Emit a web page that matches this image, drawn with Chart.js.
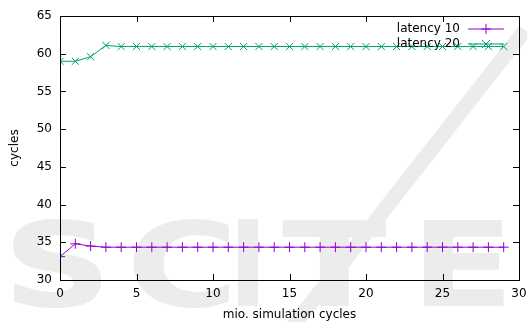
<!DOCTYPE html>
<html>
<head>
<meta charset="utf-8">
<script src="https://cdn.jsdelivr.net/npm/chart.js@4"></script>
<style>
  html, body { margin: 0; padding: 0; background: #fff; }
  #wrap { width: 527px; height: 322px; }
</style>
</head>
<body>
<div id="wrap"><canvas id="latencyChart" width="527" height="322"></canvas></div>
<script>
// x = million simulation cycles
const cycles = [0, 1, 2, 3, 4, 5, 6, 7, 8, 9, 10, 11, 12, 13, 14, 15, 16, 17, 18, 19, 20, 21, 22, 23, 24, 25, 26, 27, 28, 29];
const latency10 = [33.1, 34.8, 34.5, 34.35, 34.35, 34.35, 34.35, 34.35, 34.35, 34.35, 34.35, 34.35, 34.35, 34.35, 34.35,
  34.35, 34.35, 34.35, 34.35, 34.35, 34.35, 34.35, 34.35, 34.35, 34.35, 34.35, 34.35, 34.35, 34.35, 34.35];
const latency20 = [59.0, 59.0, 59.6, 61.1, 60.95, 60.95, 60.95, 60.95, 60.95, 60.95, 60.95, 60.95, 60.95, 60.95, 60.95,
  60.95, 60.95, 60.95, 60.95, 60.95, 60.95, 60.95, 60.95, 60.95, 60.95, 60.95, 60.95, 60.95, 60.95, 60.95];
const seriesNames = ['latency 10', 'latency 20'];
const xTicks = [0, 5, 10, 15, 20, 25, 30];
const yTicks = [30, 35, 40, 45, 50, 55, 60, 65];

const FONT = 'DejaVu Sans';

function toPoints(ys) {
  return cycles.map((x, i) => ({ x: x, y: ys[i] }));
}

// faint publisher watermark behind the plot
const watermark = {
  id: 'watermark',
  beforeDraw(chart) {
    const c = chart.ctx;
    c.save();
    c.fillStyle = '#ececec';
    c.strokeStyle = '#ececec';
    c.font = 'bold 118px ' + FONT;
    c.textBaseline = 'alphabetic';
    const letter = (ch, x) => {
      c.save();
      c.translate(x, 306);
      c.scale(1.3, 1);
      c.fillText(ch, 0, 0);
      c.restore();
    };
    letter('S', 2);
    letter('C', 126);
    c.fillRect(238, 219, 20, 87);
    letter('T', 282);
    letter('E', 410);
    c.lineWidth = 15;
    c.beginPath();
    c.moveTo(290, 330);
    c.lineTo(525, 30);
    c.stroke();
    c.restore();
  }
};

// gnuplot style frame, inward ticks on all four sides, and key
const frame = {
  id: 'frame',
  afterDraw(chart) {
    const c = chart.ctx;
    const a = chart.chartArea;
    const xs = chart.scales.x, ys = chart.scales.y;
    c.save();
    c.strokeStyle = '#000';
    c.lineWidth = 1;
    c.strokeRect(Math.round(a.left) + 0.5, Math.round(a.top) + 0.5,
      Math.round(a.right - a.left), Math.round(a.bottom - a.top));
    c.beginPath();
    xTicks.forEach(v => {
      const px = Math.round(xs.getPixelForValue(v)) + 0.5;
      c.moveTo(px, a.bottom); c.lineTo(px, a.bottom - 6);
      c.moveTo(px, a.top); c.lineTo(px, a.top + 6);
    });
    yTicks.forEach(v => {
      const py = Math.round(ys.getPixelForValue(v)) + 0.5;
      c.moveTo(a.left, py); c.lineTo(a.left + 6, py);
      c.moveTo(a.right, py); c.lineTo(a.right - 6, py);
    });
    c.stroke();

    // key
    c.font = '12px ' + FONT;
    c.textAlign = 'right';
    c.textBaseline = 'middle';
    chart.data.datasets.forEach((ds, i) => {
      const y = 29 + i * 15;
      c.fillStyle = '#000';
      c.fillText(ds.label, 460, y);
      c.strokeStyle = ds.borderColor;
      c.beginPath();
      c.moveTo(468, y); c.lineTo(504, y);
      if (i === 0) {
        c.moveTo(486, y - 5); c.lineTo(486, y + 5);
        c.moveTo(481, y); c.lineTo(491, y);
      } else {
        c.moveTo(482, y - 4); c.lineTo(490, y + 4);
        c.moveTo(482, y + 4); c.lineTo(490, y - 4);
      }
      c.stroke();
    });
    c.restore();
  }
};

new Chart(document.getElementById('latencyChart'), {
  type: 'line',
  data: {
    datasets: [{
      label: seriesNames[0],
      data: toPoints(latency10),
      borderColor: '#9400d3',
      backgroundColor: '#9400d3',
      borderWidth: 1,
      pointStyle: 'cross',
      pointRadius: 5,
      pointBorderWidth: 1,
      tension: 0
    }, {
      label: seriesNames[1],
      data: toPoints(latency20),
      borderColor: '#009e73',
      backgroundColor: '#009e73',
      borderWidth: 1,
      pointStyle: 'crossRot',
      pointRadius: 5,
      pointBorderWidth: 1,
      tension: 0
    }]
  },
  options: {
    responsive: false,
    animation: false,
    layout: { padding: { top: 16, right: 8, left: 0, bottom: 0 } },
    plugins: { legend: { display: false }, tooltip: { enabled: false } },
    scales: {
      x: {
        type: 'linear',
        min: 0, max: 30,
        afterBuildTicks: s => { s.ticks = xTicks.map(v => ({ value: v })); },
        afterFit: s => { s.height = 42; s.paddingRight = 0; s.paddingLeft = 0; },
        grid: { display: false, drawTicks: false },
        border: { display: false },
        ticks: { color: '#000', font: { family: FONT, size: 12 }, padding: 7, maxRotation: 0 },
        title: { display: true, text: 'mio. simulation cycles', color: '#000',
                 font: { family: FONT, size: 12 }, padding: { top: 0, bottom: 0 } }
      },
      y: {
        min: 30, max: 65,
        afterBuildTicks: s => { s.ticks = yTicks.map(v => ({ value: v })); },
        afterFit: s => { s.width = 60; },
        grid: { display: false, drawTicks: false },
        border: { display: false },
        ticks: { color: '#000', font: { family: FONT, size: 12 }, padding: 8 },
        title: { display: true, text: 'cycles', color: '#000',
                 font: { family: FONT, size: 12 }, padding: { top: 8, bottom: 0 } }
      }
    }
  },
  plugins: [watermark, frame]
});
</script>
</body>
</html>
